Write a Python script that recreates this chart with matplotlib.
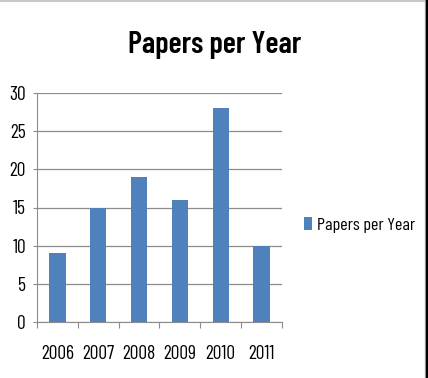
import matplotlib.pyplot as plt
from matplotlib.lines import Line2D

years = ["2006", "2007", "2008", "2009", "2010", "2011"]
papers = [9, 15, 19, 16, 28, 10]
series_name = "Papers per Year"

plt.rcParams['font.family'] = ['Barlow Condensed', 'DejaVu Sans']

W, H = 428, 378
fig = plt.figure(figsize=(W / 100, H / 100), dpi=100)
ax = fig.add_axes([37 / W, 1 - 322 / H, (282 - 37) / W, (322 - 93) / H])

x = range(len(years))
ax.bar(x, papers, width=0.4, color="#4F81BD", label=series_name, zorder=3)

ax.set_xlim(-0.5, len(years) - 0.5)
ax.set_ylim(0, 30)
ax.set_yticks(range(0, 31, 5))
# category boundaries carry the tick marks, labels sit on minor ticks
ax.set_xticks([i - 0.5 for i in range(len(years) + 1)])
ax.set_xticklabels([])
ax.set_xticks(list(x), minor=True)
ax.set_xticklabels(years, minor=True)

ax.grid(axis="y", color="#8C8C8C", linewidth=0.9, zorder=0)
for s in ["top", "right"]:
    ax.spines[s].set_visible(False)
for s in ["left", "bottom"]:
    ax.spines[s].set_color("#8C8C8C")
ax.tick_params(axis="y", length=3, color="#8C8C8C", labelsize=14, pad=5)
ax.tick_params(axis="x", which="major", length=4.3, color="#8C8C8C")
ax.tick_params(axis="x", which="minor", length=0, labelsize=14, pad=16.5)

fig.text(215 / W, 1 - 53 / H, "Papers per Year", ha="center", va="baseline",
         fontsize=22, fontweight=600)

ax.legend(loc="center left", bbox_to_anchor=(304 / W, 1 - 225 / H),
          bbox_transform=fig.transFigure, frameon=False, fontsize=13,
          handlelength=0.45, handleheight=0.7, handletextpad=0.25,
          borderaxespad=0, borderpad=0)

# frame edges of the screenshot
fig.add_artist(Line2D([0, 1], [1 - 1 / H, 1 - 1 / H], color="#C8C8C8", linewidth=1.5))
fig.add_artist(Line2D([425 / W, 425 / W], [0, 1], color="#C0C0C0", linewidth=1))
fig.add_artist(Line2D([427 / W, 427 / W], [0, 1], color="black", linewidth=2.5))

fig.savefig("out.png", dpi=100)
